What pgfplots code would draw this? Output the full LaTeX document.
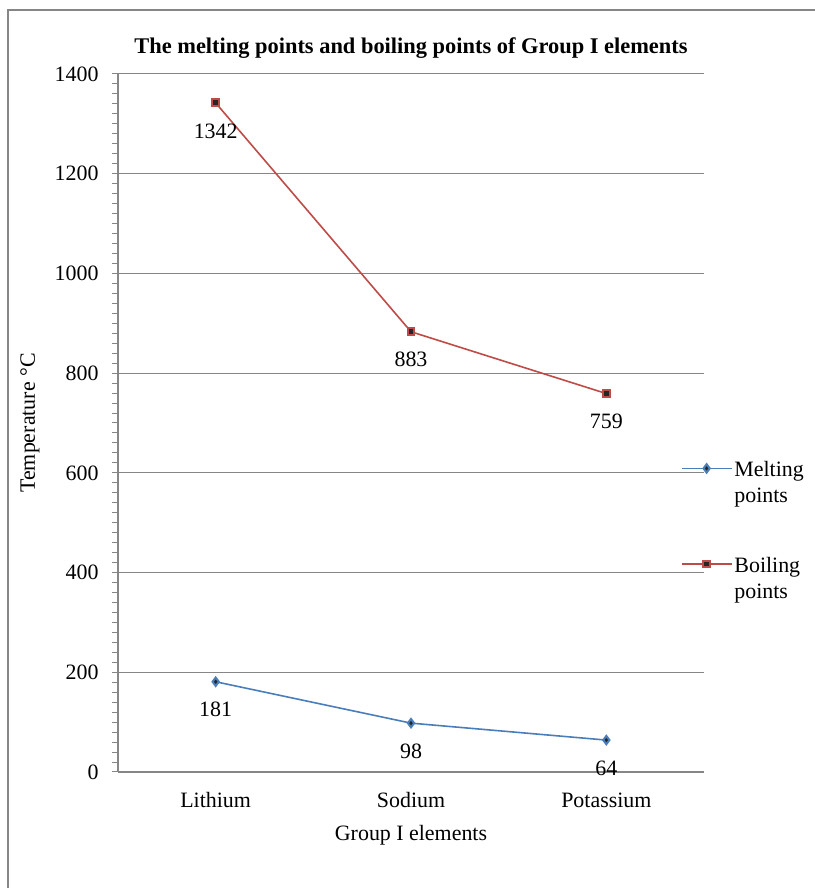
\documentclass[border=0pt]{standalone}
\usepackage{pgfplots}
\pgfplotsset{compat=1.18}
\usepackage{fontspec}
\setmainfont{Liberation Serif}
\definecolor{gridc}{HTML}{868686}
\definecolor{mblue}{HTML}{4A7EBB}
\definecolor{bred}{HTML}{BE4B48}
\begin{document}
\begin{tikzpicture}[x=1bp,y=1bp]
\path[use as bounding box] (0,0) rectangle (815,888);
\draw[gridc, line width=1.2bp] (8,0) -- (8,878) -- (815,878);
\begin{axis}[
  at={(118bp,116bp)}, anchor=south west,
  scale only axis, width=586bp, height=698bp,
  font=\fontsize{22}{26}\selectfont,
  /pgf/number format/assume math mode=true,
  /pgf/number format/1000 sep={},
  xmin=-0.5, xmax=2.5, ymin=0, ymax=1400,
  xtick={0,1,2}, xticklabels={Lithium,Sodium,Potassium},
  xtick style={draw=none},
  xticklabel style={anchor=center, yshift=-22bp},
  yticklabel style={xshift=-10bp},
  ytick={0,200,...,1400},
  minor y tick num=9,
  axis x line*=bottom, axis y line*=left,
  axis line style={gridc, line width=1.2bp, -},
  ymajorgrids, grid style={gridc, line width=1bp},
  tick align=outside,
  major tick length=6bp, minor tick length=6bp,
  ytick style={gridc, line width=1bp},
  clip=false,
  title={\bfseries\fontsize{22.5}{26}\selectfont The melting points and boiling points of Group I elements},
  title style={at={(axis description cs:0.5,1)}, anchor=center, yshift=20bp},
  xlabel={Group I elements},
  xlabel style={at={(axis description cs:0.5,0)}, anchor=center, yshift=-63bp},
  ylabel={Temperature °C},
  ylabel style={at={(axis description cs:-0.1502,0.5)}, anchor=center},
  legend style={at={(axis description cs:0.955,0.455)}, anchor=north west, draw=none, fill=none,
    row sep=72bp, font=\fontsize{22}{26}\selectfont, cells={anchor=west}},
  legend image code/.code={\draw[mark repeat=2, mark phase=2, #1] plot coordinates {(0bp,0bp) (25bp,0bp) (50bp,0bp)};},
  nodes near coords,
  every node near coord/.append style={black, anchor=center, yshift=-28bp, font=\fontsize{22}{26}\selectfont},
]
\addplot[mblue, line width=1.6bp, mark=diamond*, mark size=4.2bp,
  mark options={fill=black!85, draw=mblue, line width=2bp}]
  coordinates {(0,181) (1,98) (2,64)};
\addlegendentry{\begin{tabular}[t]{@{}l@{}}Melting\\points\end{tabular}}
\addplot[bred, line width=1.6bp, mark=square*, mark size=3.4bp,
  mark options={fill=black!85, draw=bred, line width=2bp}]
  coordinates {(0,1342) (1,883) (2,759)};
\addlegendentry{\begin{tabular}[t]{@{}l@{}}Boiling\\points\end{tabular}}
\end{axis}
\end{tikzpicture}
\end{document}
